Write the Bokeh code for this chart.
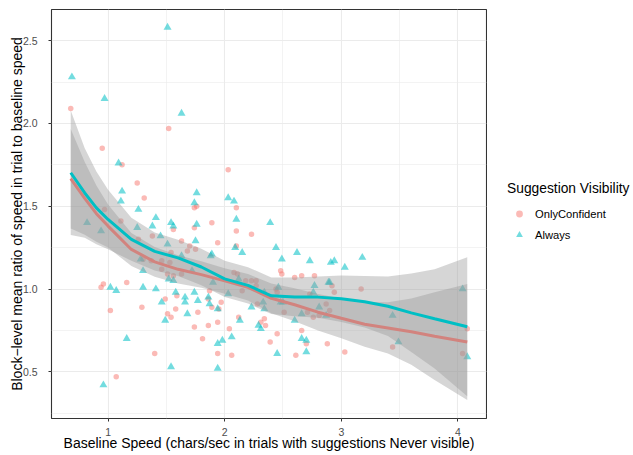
from bokeh.plotting import figure
from bokeh.layouts import row
from bokeh.models import FixedTicker, PrintfTickFormatter, Legend, LegendItem, Range1d
from bokeh.embed import file_html
from bokeh.resources import INLINE

# ---- data: OnlyConfident (circles) ----
conf_x = [0.68, 0.95, 1.52, 1.12, 1.25, 1.31, 1.74, 1.76, 2.03, 2.10, 0.97, 1.11, 1.26, 1.38,
          1.56, 1.74, 1.89, 1.94, 1.75, 1.63, 1.68, 1.70, 1.30, 1.37, 1.46, 1.46, 1.54, 1.53,
          1.51, 1.56, 1.63, 1.87, 1.59, 1.49, 1.29, 1.51, 1.54, 1.58, 1.77, 1.86, 1.89, 1.97,
          1.95, 1.74, 1.81, 1.86, 1.94, 1.94, 2.04, 2.06, 2.12, 2.10, 2.08, 2.11, 2.23, 2.15,
          2.18, 2.23, 2.27, 2.28, 2.31, 2.10, 1.02, 0.94, 0.96, 1.16, 1.40, 1.07, 2.27, 2.44,
          2.45, 2.48, 2.49, 2.60, 2.66, 2.77, 3.17, 2.92, 2.94, 2.73, 2.51, 2.87, 2.90, 2.81,
          2.76, 2.71, 2.34, 2.35, 2.45, 2.39, 2.61, 2.66, 2.70, 2.88, 3.03, 3.44, 4.08, 4.04]
conf_y = [2.09, 1.85, 1.97, 1.75, 1.64, 1.55, 1.49, 1.50, 1.72, 1.49, 1.48, 1.41, 1.30, 1.32,
          1.36, 1.37, 1.40, 1.28, 1.24, 1.29, 1.23, 1.26, 1.18, 1.17, 1.17, 1.12, 1.22, 1.16,
          1.09, 1.08, 1.09, 0.99, 0.96, 0.94, 0.89, 0.85, 0.83, 0.88, 0.86, 0.94, 0.89, 0.92,
          0.88, 0.77, 0.70, 0.78, 0.80, 0.61, 0.76, 0.60, 0.83, 1.26, 1.10, 1.09, 1.33, 0.99,
          1.05, 1.05, 1.05, 0.91, 0.80, 1.35, 0.87, 1.01, 1.03, 1.04, 0.61, 0.47, 1.02, 1.00,
          0.98, 1.11, 1.09, 1.07, 1.08, 1.08, 1.00, 1.02, 0.98, 0.97, 0.86, 0.91, 0.87, 0.84,
          0.83, 0.86, 0.82, 0.78, 0.73, 0.68, 0.60, 0.75, 0.67, 0.67, 0.62, 0.65, 0.76, 0.61]

# ---- data: Always (triangles) ----
always_x = [0.69, 0.97, 1.51, 1.63, 1.09, 1.12, 1.11, 1.26, 1.41, 1.76, 1.74, 2.03, 2.08, 2.10,
            0.82, 0.94, 1.25, 1.38, 1.45, 1.54, 1.56, 1.76, 1.75, 1.51, 1.28, 1.30, 1.56, 1.52,
            1.63, 1.72, 1.88, 1.89, 1.90, 1.74, 1.66, 1.66, 1.58, 1.46, 1.41, 1.49, 1.68, 1.77,
            1.86, 1.87, 1.94, 1.94, 1.98, 1.94, 2.06, 2.13, 2.15, 2.09, 2.03, 2.12, 2.23, 2.29,
            1.16, 1.02, 1.07, 1.30, 1.54, 0.96, 2.39, 2.44, 2.49, 2.62, 2.73, 2.91, 2.94, 3.03,
            3.18, 2.89, 2.90, 2.77, 2.76, 2.46, 2.34, 2.33, 2.34, 2.48, 2.50, 2.81, 2.87, 2.66,
            2.60, 2.31, 2.45, 2.66, 2.70, 2.70, 3.44, 3.49, 4.04, 4.08]
always_y = [2.28, 2.15, 2.58, 2.06, 1.76, 1.59, 1.53, 1.48, 1.43, 1.58, 1.52, 1.55, 1.53, 1.42,
            1.40, 1.35, 1.37, 1.38, 1.32, 1.40, 1.38, 1.39, 1.29, 1.27, 1.18, 1.11, 1.05, 1.06,
            1.20, 1.11, 1.20, 1.21, 1.04, 0.98, 0.95, 0.92, 0.98, 0.92, 1.00, 0.81, 0.85, 0.93,
            0.95, 0.91, 0.88, 0.67, 0.69, 0.52, 0.71, 0.81, 1.22, 1.25, 0.97, 1.06, 0.89, 0.78,
            0.70, 1.01, 0.99, 1.01, 0.53, 0.42, 1.40, 1.25, 1.18, 1.22, 1.17, 1.16, 1.17, 1.13,
            1.19, 1.04, 1.04, 1.02, 0.98, 1.01, 0.98, 0.92, 0.88, 0.92, 0.92, 0.89, 0.84, 0.85,
            0.81, 0.76, 0.61, 0.70, 0.69, 0.62, 0.84, 0.68, 1.00, 0.59]

# ---- loess smooths ----
smooth_x = [0.68, 0.8, 0.9, 1.0, 1.2, 1.4, 1.6, 1.8, 2.0, 2.2, 2.4, 2.6, 2.8, 3.0, 3.2, 3.4, 3.6, 3.8, 4.08]
conf_fit = [1.666, 1.547, 1.455, 1.380, 1.239, 1.164, 1.119, 1.087, 1.049, 1.010, 0.944, 0.905, 0.860,
            0.823, 0.787, 0.765, 0.742, 0.715, 0.680]
conf_lo = [1.365, 1.327, 1.285, 1.250, 1.139, 1.074, 1.034, 1.007, 0.972, 0.930, 0.854, 0.805, 0.750,
           0.703, 0.652, 0.610, 0.542, 0.450, 0.329]
conf_hi = [1.967, 1.767, 1.625, 1.510, 1.339, 1.254, 1.204, 1.167, 1.126, 1.090, 1.034, 1.005, 0.970,
           0.943, 0.922, 0.920, 0.942, 0.980, 1.031]
always_fit = [1.702, 1.580, 1.490, 1.420, 1.300, 1.227, 1.188, 1.133, 1.061, 1.022, 0.959, 0.952, 0.951,
              0.941, 0.923, 0.896, 0.856, 0.820, 0.772]
always_lo = [1.326, 1.310, 1.270, 1.240, 1.170, 1.112, 1.078, 1.023, 0.951, 0.912, 0.849, 0.835, 0.826,
             0.801, 0.768, 0.716, 0.619, 0.520, 0.352]
always_hi = [2.078, 1.850, 1.710, 1.600, 1.430, 1.342, 1.298, 1.243, 1.171, 1.132, 1.069, 1.069, 1.076,
             1.081, 1.078, 1.076, 1.093, 1.120, 1.192]

x_ticks = [1, 2, 3, 4]
x_minor = [1.5, 2.5, 3.5]
y_ticks = [0.5, 1.0, 1.5, 2.0, 2.5]
y_minor = [0.25, 0.75, 1.25, 1.75, 2.25]
x_limits = (0.515, 4.245)
y_limits = (0.218, 2.688)

series_names = ["OnlyConfident", "Always"]
x_title = "Baseline Speed (chars/sec in trials with suggestions Never visible)"
y_title = "Block\u2212level mean ratio of speed in trial to baseline speed"
legend_title = "Suggestion Visibility"

RED = "#F8766D"
CYAN = "#00BFC4"
FONT = "Liberation Sans"
AXIS_TITLE_SIZE = "14px"
LEGEND_TITLE_SIZE = "13.8px"
TICK_SIZE = "10.5px"
KEY_SIZE = "11.2px"

p = figure(width=487, height=454, output_backend="svg", toolbar_location=None,
           x_range=Range1d(*x_limits), y_range=Range1d(*y_limits),
           min_border_left=51, min_border_right=1, min_border_top=9, min_border_bottom=36)
p.background_fill_color = "white"
p.border_fill_color = "white"
p.outline_line_color = "#333333"
p.outline_line_width = 1.1

for ax, ticks, minor, fmt in ((p.xaxis, x_ticks, x_minor, "%d"), (p.yaxis, y_ticks, y_minor, "%.1f")):
    ax.ticker = FixedTicker(ticks=ticks, minor_ticks=minor)
    ax.formatter = PrintfTickFormatter(format=fmt)
    ax.axis_line_color = None
    ax.major_tick_line_color = "#333333"
    ax.major_tick_in = 0
    ax.major_tick_out = 3
    ax.minor_tick_line_color = None
    ax.major_label_text_font = FONT
    ax.major_label_text_font_size = TICK_SIZE
    ax.major_label_text_color = "#4D4D4D"
    ax.axis_label_text_font = FONT
    ax.axis_label_text_font_size = AXIS_TITLE_SIZE
    ax.axis_label_text_font_style = "normal"
    ax.axis_label_text_color = "black"

p.xaxis.axis_label = x_title
p.yaxis.axis_label = y_title
p.xaxis.major_label_standoff = 5
p.xaxis.axis_label_standoff = -4
p.yaxis.major_label_standoff = 10
p.yaxis.axis_label_standoff = -5

for g in (p.xgrid, p.ygrid):
    g.grid_line_color = "#EBEBEB"
    g.grid_line_width = 1.1
    g.minor_grid_line_color = "#EBEBEB"
    g.minor_grid_line_width = 0.6

p.scatter(conf_x, conf_y, marker="circle", size=5.5, fill_color=RED, fill_alpha=0.5, line_color=None)
p.scatter(always_x, always_y, marker="triangle", size=8, fill_color=CYAN, fill_alpha=0.55, line_color=None)

p.varea(x=smooth_x, y1=conf_lo, y2=conf_hi, fill_color="#999999", fill_alpha=0.4)
p.line(smooth_x, conf_fit, line_color=RED, line_width=3)
p.varea(x=smooth_x, y1=always_lo, y2=always_hi, fill_color="#999999", fill_alpha=0.4)
p.line(smooth_x, always_fit, line_color=CYAN, line_width=3)

# ---- legend panel (separate figure to the right; its own ranges keep the key renderers off-canvas) ----
leg = figure(width=145, height=454, output_backend="svg", toolbar_location=None,
             x_range=Range1d(-1, 0), y_range=Range1d(-1, 0), x_axis_type=None, y_axis_type=None,
             min_border_left=0, min_border_right=0, min_border_top=0, min_border_bottom=0)
leg.outline_line_color = None
leg.grid.visible = False
leg.background_fill_color = "white"
leg.border_fill_color = "white"
k_conf = leg.scatter(conf_x, conf_y, marker="circle", size=5.5, fill_color=RED, fill_alpha=0.5,
                     line_color=None)
k_always = leg.scatter(always_x, always_y, marker="triangle", size=8, fill_color=CYAN, fill_alpha=0.55,
                       line_color=None)

legend = Legend(items=[LegendItem(label=series_names[0], renderers=[k_conf], index=0),
                       LegendItem(label=series_names[1], renderers=[k_always], index=0)],
                location=(20, 175), title=legend_title)
legend.title_text_font = FONT
legend.title_text_font_size = LEGEND_TITLE_SIZE
legend.title_text_font_style = "normal"
legend.title_text_color = "black"
legend.title_standoff = 9
legend.label_text_font = FONT
legend.label_text_font_size = KEY_SIZE
legend.label_text_color = "black"
legend.glyph_width = 24
legend.glyph_height = 17
legend.label_height = 17
legend.label_standoff = 4
legend.spacing = 4
legend.padding = 0
legend.margin = 0
legend.border_line_color = None
legend.background_fill_color = None
leg.add_layout(legend, "center")

open("out.html", "w").write(file_html(row(p, leg), INLINE))
